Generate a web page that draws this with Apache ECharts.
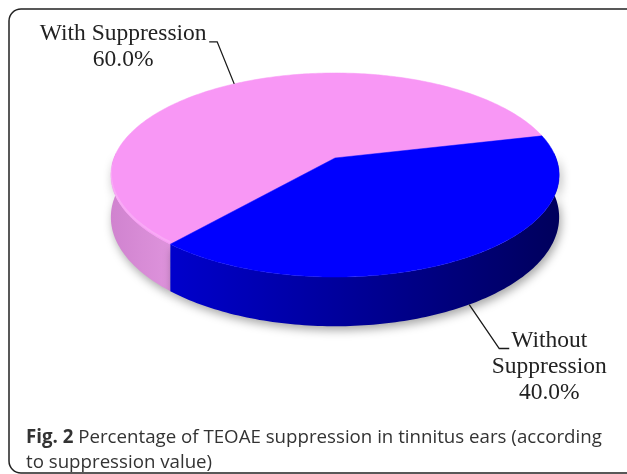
<!DOCTYPE html>
<html><head><meta charset="utf-8">
<script src="https://cdn.jsdelivr.net/npm/echarts@6/dist/echarts.min.js"></script>
<style>html,body{margin:0;padding:0;background:#fff}#c{width:627px;height:474px}</style>
</head><body><div id="c"></div>
<script>
// ---- data ----
const categories = ['With Suppression', 'Without Suppression'];
const labelNames = ['With Suppression', 'Without\nSuppression'];
const values = [60, 40];
const captionBold = 'Fig. 2';
const captionLine1 = ' Percentage of TEOAE suppression in tinnitus ears (according';
const captionLine2 = 'to suppression value)';

// ---- style / layout ----
const topColors = ['#F897F5', '#0000FF'];
const wallColors = [['#D083CF', '#DE93DC'], ['#0000CC', '#00005C']];
const CX = 335, CY = 158, A = 221, B = 99.2, K = 0.1667, T = 41;
const START = 130.6;                     // degrees, clockwise on screen
const leaderElbow = [[-17, -42, -8], [30, 44, 10]];
const labelDx = [-86, 40], labelDy = [-21, -21];

const total = values.reduce((a, b) => a + b, 0);
function proj(deg, drop) {
  const t = deg * Math.PI / 180, X = Math.cos(t), Z = Math.sin(t), w = 1 - K * Z;
  return [CX + A * X / w, CY + B * Z / w + drop * T / w];
}
function arc(a0, a1, drop) {
  const n = Math.max(2, Math.ceil(Math.abs(a1 - a0)));
  const pts = [];
  for (let j = 0; j <= n; j++) pts.push(proj(a0 + (a1 - a0) * j / n, drop));
  return pts;
}
const angles = [];
let cum = 0;
values.forEach(v => { const a0 = START + 360 * cum / total; cum += v; angles.push([a0, START + 360 * cum / total]); });

function renderItem(params, api) {
  const i = params.dataIndex;
  const [a0, a1] = angles[i];
  const children = [];
  // visible outer walls
  [-360, 0, 360].forEach(off => {
    const lo = Math.max(a0, -3 + off), hi = Math.min(a1, 183 + off);
    if (lo < hi) {
      const pts = arc(lo, hi, 0).concat(arc(hi, lo, 1));
      children.push({
        type: 'polygon', z2: 1, shape: { points: pts },
        style: {
          fill: new echarts.graphic.LinearGradient(0, 0, 1, 0, [
            { offset: 0, color: wallColors[i][0] }, { offset: 1, color: wallColors[i][1] }]),
          shadowBlur: 10, shadowColor: 'rgba(0,0,0,0.35)', shadowOffsetY: 4, shadowOffsetX: 2
        }
      });
    }
  });
  // top face
  children.push({
    type: 'polygon', z2: 10, shape: { points: [[CX, CY]].concat(arc(a0, a1, 0)) },
    style: { fill: topColors[i], stroke: topColors[i], lineWidth: 0.5 }
  });
  // rim highlight
  const hlo = Math.max(a0, 5), hhi = Math.min(a1, 175);
  if (hlo < hhi) {
    children.push({
      type: 'polyline', z2: 11, shape: { points: arc(hlo, hhi, 0).map(p => [p[0], p[1] - 2]) },
      style: { stroke: 'rgba(255,255,255,0.18)', lineWidth: 2, fill: null }
    });
  }
  // leader + label
  const mid = (a0 + a1) / 2;
  const front = Math.sin(mid * Math.PI / 180) > 0;
  const p0 = proj(mid, front ? 1 : 0);
  const e = leaderElbow[i];
  const p1 = [p0[0] + e[0], p0[1] + e[1]];
  const p2 = [p1[0] + e[2], p1[1]];
  children.push({
    type: 'polyline', z2: 20, shape: { points: [p0, p1, p2] },
    style: { stroke: '#1a1a1a', lineWidth: 1.3, fill: null }
  });
  const pct = (api.value(0) / total * 100).toFixed(1) + '%';
  children.push({
    type: 'text', z2: 20,
    x: p2[0] + labelDx[i], y: p2[1] + labelDy[i],
    style: {
      text: labelNames[i] + '\n' + pct, fill: '#222', align: 'center', verticalAlign: 'top',
      font: '23.5px "Liberation Serif", "Times New Roman", serif', lineHeight: 26
    }
  });
  return { type: 'group', children };
}

const chart = echarts.init(document.getElementById('c'), null, { renderer: 'canvas' });
chart.setOption({
  animation: false,
  title: {
    text: '{b|' + captionBold + '}' + captionLine1 + '\n' + captionLine2,
    left: 21, top: 420,
    textStyle: {
      fontFamily: '"Open Sans", sans-serif', fontSize: 18.7, fontWeight: 'normal', color: '#333', lineHeight: 25,
      rich: { b: { fontFamily: '"Open Sans", sans-serif', fontSize: 18.7, fontWeight: 'bold', color: '#333', lineHeight: 25 } }
    }
  },
  graphic: [{
    type: 'rect', shape: { x: 9, y: 9, width: 640, height: 464, r: 12 },
    style: { fill: null, stroke: '#222', lineWidth: 1.5 }, z: 0
  }],
  series: [{
    type: 'custom', coordinateSystem: 'none', renderItem,
    data: values.map((v, i) => ({ name: categories[i], value: [v] }))
  }]
});
</script></body></html>
